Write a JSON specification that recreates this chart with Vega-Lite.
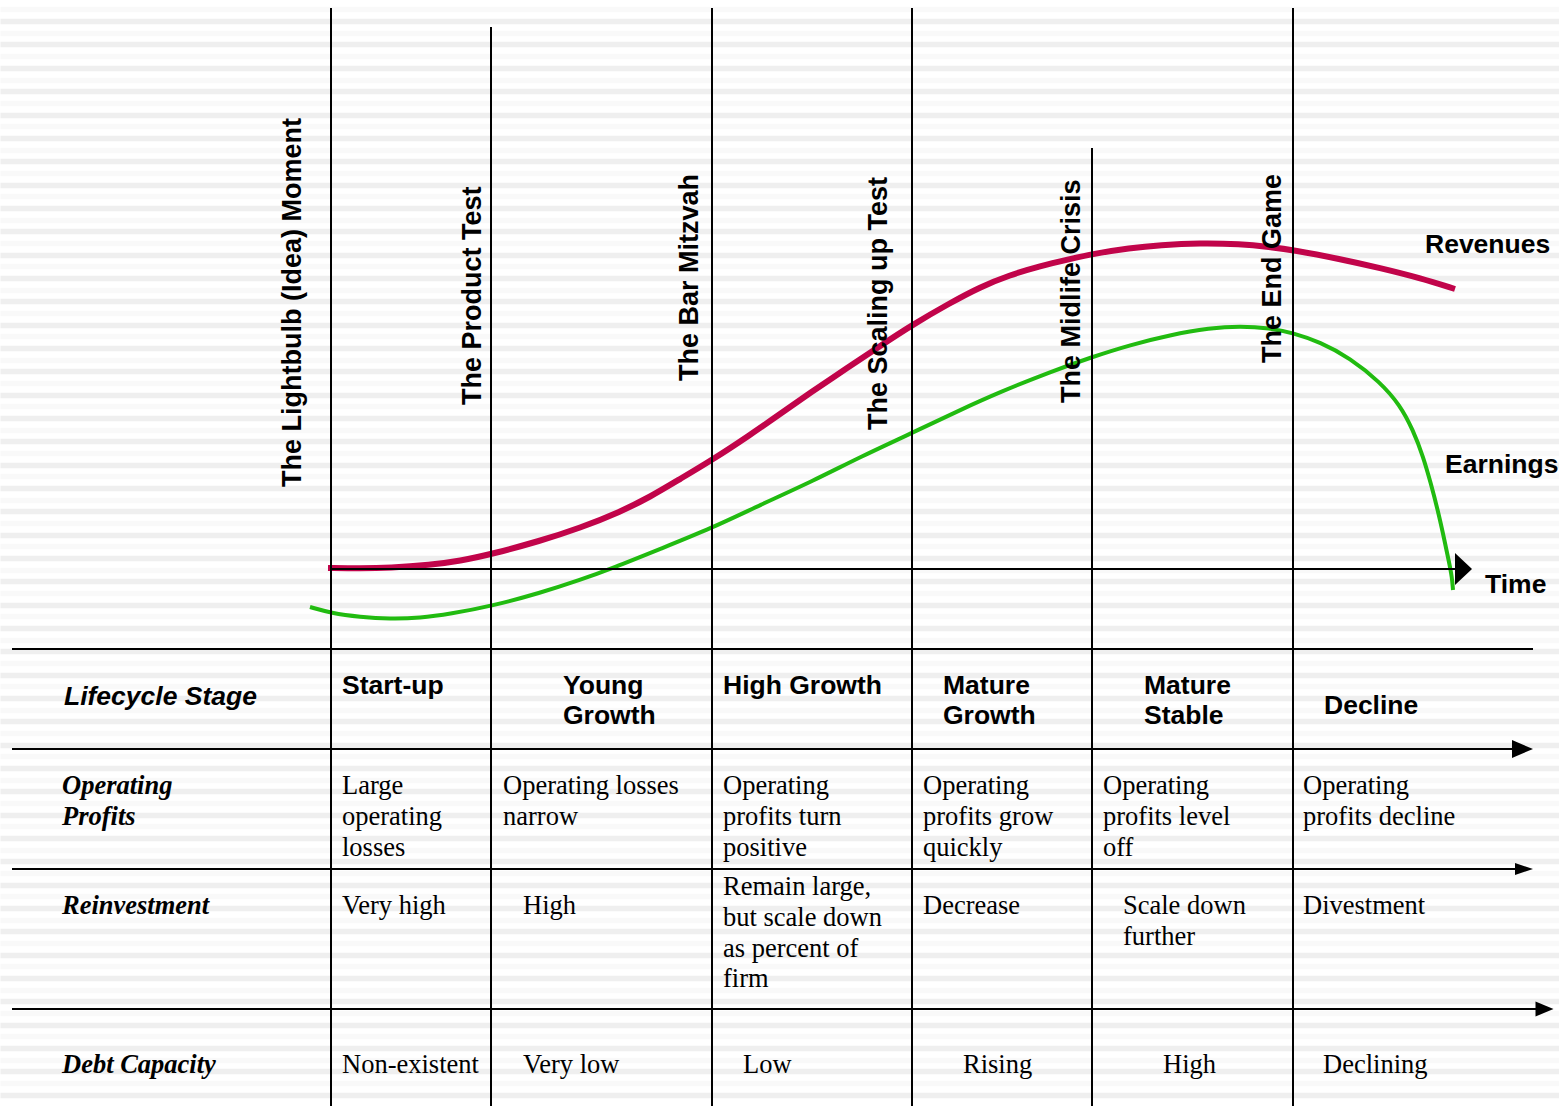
{
  "$schema": "https://vega.github.io/schema/vega-lite/v6.json",
  "width": 1559,
  "height": 1106,
  "autosize": {"type": "none"},
  "padding": 0,
  "background": "white",
  "config": {"view": {"stroke": null}},
  "datasets": {
    "curves": [
      {"series": "Revenues", "x": 328, "y": 568},
      {"series": "Revenues", "x": 360, "y": 568.5},
      {"series": "Revenues", "x": 390, "y": 568},
      {"series": "Revenues", "x": 430, "y": 565},
      {"series": "Revenues", "x": 460, "y": 561},
      {"series": "Revenues", "x": 492, "y": 554},
      {"series": "Revenues", "x": 540, "y": 541},
      {"series": "Revenues", "x": 580, "y": 528},
      {"series": "Revenues", "x": 620, "y": 512},
      {"series": "Revenues", "x": 650, "y": 497},
      {"series": "Revenues", "x": 680, "y": 479},
      {"series": "Revenues", "x": 712, "y": 460},
      {"series": "Revenues", "x": 750, "y": 435},
      {"series": "Revenues", "x": 780, "y": 414},
      {"series": "Revenues", "x": 810, "y": 393},
      {"series": "Revenues", "x": 847, "y": 368},
      {"series": "Revenues", "x": 880, "y": 346},
      {"series": "Revenues", "x": 912, "y": 325},
      {"series": "Revenues", "x": 950, "y": 303},
      {"series": "Revenues", "x": 980, "y": 287},
      {"series": "Revenues", "x": 1010, "y": 275},
      {"series": "Revenues", "x": 1040, "y": 266},
      {"series": "Revenues", "x": 1070, "y": 259},
      {"series": "Revenues", "x": 1092, "y": 254},
      {"series": "Revenues", "x": 1130, "y": 248},
      {"series": "Revenues", "x": 1160, "y": 245},
      {"series": "Revenues", "x": 1200, "y": 243},
      {"series": "Revenues", "x": 1240, "y": 244},
      {"series": "Revenues", "x": 1270, "y": 247},
      {"series": "Revenues", "x": 1293, "y": 250},
      {"series": "Revenues", "x": 1340, "y": 259},
      {"series": "Revenues", "x": 1380, "y": 268},
      {"series": "Revenues", "x": 1420, "y": 278},
      {"series": "Revenues", "x": 1455, "y": 289},
      {"series": "Earnings", "x": 310, "y": 607},
      {"series": "Earnings", "x": 331, "y": 613},
      {"series": "Earnings", "x": 360, "y": 617},
      {"series": "Earnings", "x": 390, "y": 619},
      {"series": "Earnings", "x": 420, "y": 618},
      {"series": "Earnings", "x": 450, "y": 614},
      {"series": "Earnings", "x": 492, "y": 606},
      {"series": "Earnings", "x": 540, "y": 593},
      {"series": "Earnings", "x": 580, "y": 580},
      {"series": "Earnings", "x": 613, "y": 568},
      {"series": "Earnings", "x": 660, "y": 549},
      {"series": "Earnings", "x": 712, "y": 528},
      {"series": "Earnings", "x": 760, "y": 505},
      {"series": "Earnings", "x": 813, "y": 481},
      {"series": "Earnings", "x": 860, "y": 457},
      {"series": "Earnings", "x": 912, "y": 433},
      {"series": "Earnings", "x": 960, "y": 410},
      {"series": "Earnings", "x": 1000, "y": 392},
      {"series": "Earnings", "x": 1050, "y": 372},
      {"series": "Earnings", "x": 1092, "y": 357},
      {"series": "Earnings", "x": 1130, "y": 345},
      {"series": "Earnings", "x": 1170, "y": 335},
      {"series": "Earnings", "x": 1210, "y": 328},
      {"series": "Earnings", "x": 1240, "y": 326},
      {"series": "Earnings", "x": 1270, "y": 328},
      {"series": "Earnings", "x": 1293, "y": 333},
      {"series": "Earnings", "x": 1320, "y": 342},
      {"series": "Earnings", "x": 1350, "y": 358},
      {"series": "Earnings", "x": 1380, "y": 382},
      {"series": "Earnings", "x": 1400, "y": 405},
      {"series": "Earnings", "x": 1413, "y": 430},
      {"series": "Earnings", "x": 1423, "y": 456},
      {"series": "Earnings", "x": 1431, "y": 484},
      {"series": "Earnings", "x": 1438, "y": 511},
      {"series": "Earnings", "x": 1444, "y": 538},
      {"series": "Earnings", "x": 1449, "y": 562},
      {"series": "Earnings", "x": 1452, "y": 577},
      {"series": "Earnings", "x": 1453, "y": 590}
    ],
    "vlines": [
      {"edge": "Lightbulb", "x": 331, "top": 8, "bottom": 1106},
      {"edge": "Product Test", "x": 491, "top": 27, "bottom": 1106},
      {"edge": "Bar Mitzvah", "x": 712, "top": 8, "bottom": 1106},
      {"edge": "Scaling up", "x": 912, "top": 8, "bottom": 1106},
      {"edge": "Midlife", "x": 1092, "top": 148, "bottom": 1106},
      {"edge": "End Game", "x": 1293, "top": 8, "bottom": 1106}
    ],
    "hlines": [
      {"line": "time axis", "x1": 331, "x2": 1458, "y": 569},
      {"line": "table top", "x1": 12, "x2": 1533, "y": 649},
      {"line": "stage", "x1": 12, "x2": 1515, "y": 749},
      {"line": "profits", "x1": 12, "x2": 1518, "y": 869},
      {"line": "reinvestment", "x1": 12, "x2": 1538, "y": 1009}
    ],
    "arrowheads": [
      {"kind": "time", "x": 1463.5, "y": 569},
      {"kind": "stage", "x": 1522.5, "y": 749},
      {"kind": "profits", "x": 1524, "y": 869},
      {"kind": "reinvestment", "x": 1544.5, "y": 1009}
    ],
    "labels": [
      {"kind": "milestone", "x": 293, "y": 487, "text": "The Lightbulb (Idea) Moment"},
      {"kind": "milestone", "x": 473, "y": 405, "text": "The Product Test"},
      {"kind": "milestone", "x": 690, "y": 381, "text": "The Bar Mitzvah"},
      {"kind": "milestone", "x": 879, "y": 430, "text": "The Scaling up Test"},
      {"kind": "milestone", "x": 1072, "y": 403, "text": "The Midlife Crisis"},
      {"kind": "milestone", "x": 1273, "y": 363, "text": "The End Game"},
      {"kind": "series", "x": 1425, "y": 253, "text": "Revenues"},
      {"kind": "series", "x": 1445, "y": 473, "text": "Earnings"},
      {"kind": "series", "x": 1485, "y": 593, "text": "Time"},
      {"kind": "stage", "x": 342, "y": 694, "text": "Start-up"},
      {"kind": "stage", "x": 563, "y": 694, "text": "Young"},
      {"kind": "stage", "x": 563, "y": 724, "text": "Growth"},
      {"kind": "stage", "x": 723, "y": 694, "text": "High Growth"},
      {"kind": "stage", "x": 943, "y": 694, "text": "Mature"},
      {"kind": "stage", "x": 943, "y": 724, "text": "Growth"},
      {"kind": "stage", "x": 1144, "y": 694, "text": "Mature"},
      {"kind": "stage", "x": 1144, "y": 724, "text": "Stable"},
      {"kind": "stage", "x": 1324, "y": 714, "text": "Decline"},
      {"kind": "rowsans", "x": 64, "y": 705, "text": "Lifecycle Stage"},
      {"kind": "rowserif", "x": 62, "y": 794, "text": "Operating"},
      {"kind": "rowserif", "x": 62, "y": 825, "text": "Profits"},
      {"kind": "rowserif", "x": 62, "y": 914, "text": "Reinvestment"},
      {"kind": "rowserif", "x": 62, "y": 1073, "text": "Debt Capacity"},
      {"kind": "cell", "x": 342, "y": 794, "text": "Large"},
      {"kind": "cell", "x": 342, "y": 825, "text": "operating"},
      {"kind": "cell", "x": 342, "y": 856, "text": "losses"},
      {"kind": "cell", "x": 503, "y": 794, "text": "Operating losses"},
      {"kind": "cell", "x": 503, "y": 825, "text": "narrow"},
      {"kind": "cell", "x": 723, "y": 794, "text": "Operating"},
      {"kind": "cell", "x": 723, "y": 825, "text": "profits turn"},
      {"kind": "cell", "x": 723, "y": 856, "text": "positive"},
      {"kind": "cell", "x": 923, "y": 794, "text": "Operating"},
      {"kind": "cell", "x": 923, "y": 825, "text": "profits grow"},
      {"kind": "cell", "x": 923, "y": 856, "text": "quickly"},
      {"kind": "cell", "x": 1103, "y": 794, "text": "Operating"},
      {"kind": "cell", "x": 1103, "y": 825, "text": "profits level"},
      {"kind": "cell", "x": 1103, "y": 856, "text": "off"},
      {"kind": "cell", "x": 1303, "y": 794, "text": "Operating"},
      {"kind": "cell", "x": 1303, "y": 825, "text": "profits decline"},
      {"kind": "cell", "x": 342, "y": 914, "text": "Very high"},
      {"kind": "cell", "x": 523, "y": 914, "text": "High"},
      {"kind": "cell", "x": 723, "y": 895, "text": "Remain large,"},
      {"kind": "cell", "x": 723, "y": 926, "text": "but scale down"},
      {"kind": "cell", "x": 723, "y": 957, "text": "as percent of"},
      {"kind": "cell", "x": 723, "y": 987, "text": "firm"},
      {"kind": "cell", "x": 923, "y": 914, "text": "Decrease"},
      {"kind": "cell", "x": 1123, "y": 914, "text": "Scale down"},
      {"kind": "cell", "x": 1123, "y": 945, "text": "further"},
      {"kind": "cell", "x": 1303, "y": 914, "text": "Divestment"},
      {"kind": "cell", "x": 342, "y": 1073, "text": "Non-existent"},
      {"kind": "cell", "x": 523, "y": 1073, "text": "Very low"},
      {"kind": "cell", "x": 743, "y": 1073, "text": "Low"},
      {"kind": "cell", "x": 963, "y": 1073, "text": "Rising"},
      {"kind": "cell", "x": 1163, "y": 1073, "text": "High"},
      {"kind": "cell", "x": 1323, "y": 1073, "text": "Declining"}
    ]
  },
  "layer": [
    {
      "description": "pinstripe backdrop drawn as the grid of a hidden axis",
      "data": {"values": [{"v": 0}]},
      "mark": {"type": "point", "opacity": 0},
      "encoding": {
        "y": {
          "field": "v",
          "type": "quantitative",
          "scale": {"domain": [-0.814, 93.98], "reverse": true, "nice": false, "zero": false},
          "axis": {
            "orient": "left",
            "grid": true,
            "tickCount": 95,
            "labels": false,
            "ticks": false,
            "domain": false,
            "title": null,
            "gridWidth": 5.5,
            "gridColor": {"condition": {"test": "datum.value % 2 === 1", "value": "#efefef"}, "value": "#f9f9f9"}
          }
        }
      }
    },
    {
      "layer": [
        {
          "data": {"name": "curves"},
          "transform": [{"filter": "datum.series === 'Revenues'"}],
          "mark": {"type": "line", "color": "#c1044a", "strokeWidth": 6, "interpolate": "basis", "strokeCap": "butt"},
          "encoding": {
            "x": {"field": "x", "type": "quantitative", "scale": {"domain": [0, 1559], "nice": false, "zero": false}, "axis": null},
            "y": {"field": "y", "type": "quantitative", "scale": {"domain": [0, 1106], "reverse": true, "nice": false, "zero": false}, "axis": null}
          }
        },
        {
          "data": {"name": "curves"},
          "transform": [{"filter": "datum.series === 'Earnings'"}],
          "mark": {"type": "line", "color": "#21bb10", "strokeWidth": 4, "interpolate": "basis", "strokeCap": "butt"},
          "encoding": {
            "x": {"field": "x", "type": "quantitative", "scale": {"domain": [0, 1559], "nice": false, "zero": false}, "axis": null},
            "y": {"field": "y", "type": "quantitative", "scale": {"domain": [0, 1106], "reverse": true, "nice": false, "zero": false}, "axis": null}
          }
        },
        {
          "data": {"name": "vlines"},
          "mark": {"type": "rule", "color": "black", "strokeWidth": 2},
          "encoding": {
            "x": {"field": "x", "type": "quantitative", "scale": {"domain": [0, 1559], "nice": false, "zero": false}, "axis": null},
            "y": {"field": "top", "type": "quantitative", "scale": {"domain": [0, 1106], "reverse": true, "nice": false, "zero": false}, "axis": null},
            "y2": {"field": "bottom"}
          }
        },
        {
          "data": {"name": "hlines"},
          "mark": {"type": "rule", "color": "black", "strokeWidth": 2},
          "encoding": {
            "x": {"field": "x1", "type": "quantitative", "scale": {"domain": [0, 1559], "nice": false, "zero": false}, "axis": null},
            "x2": {"field": "x2"},
            "y": {"field": "y", "type": "quantitative", "scale": {"domain": [0, 1106], "reverse": true, "nice": false, "zero": false}, "axis": null}
          }
        },
        {
          "data": {"name": "arrowheads"},
          "transform": [{"filter": "datum.kind === 'time'"}],
          "mark": {"type": "point", "filled": true, "color": "black", "opacity": 1, "strokeWidth": 0, "shape": "M-0.53,-1L0.53,0L-0.53,1Z", "size": 1024},
          "encoding": {
            "x": {"field": "x", "type": "quantitative", "scale": {"domain": [0, 1559], "nice": false, "zero": false}, "axis": null},
            "y": {"field": "y", "type": "quantitative", "scale": {"domain": [0, 1106], "reverse": true, "nice": false, "zero": false}, "axis": null}
          }
        },
        {
          "data": {"name": "arrowheads"},
          "transform": [{"filter": "datum.kind === 'stage'"}],
          "mark": {"type": "point", "filled": true, "color": "black", "opacity": 1, "strokeWidth": 0, "shape": "M-1.17,-1L1.17,0L-1.17,1Z", "size": 324},
          "encoding": {
            "x": {"field": "x", "type": "quantitative", "scale": {"domain": [0, 1559], "nice": false, "zero": false}, "axis": null},
            "y": {"field": "y", "type": "quantitative", "scale": {"domain": [0, 1106], "reverse": true, "nice": false, "zero": false}, "axis": null}
          }
        },
        {
          "data": {"name": "arrowheads"},
          "transform": [{"filter": "datum.kind === 'profits'"}],
          "mark": {"type": "point", "filled": true, "color": "black", "opacity": 1, "strokeWidth": 0, "shape": "M-1.5,-1L1.5,0L-1.5,1Z", "size": 144},
          "encoding": {
            "x": {"field": "x", "type": "quantitative", "scale": {"domain": [0, 1559], "nice": false, "zero": false}, "axis": null},
            "y": {"field": "y", "type": "quantitative", "scale": {"domain": [0, 1106], "reverse": true, "nice": false, "zero": false}, "axis": null}
          }
        },
        {
          "data": {"name": "arrowheads"},
          "transform": [{"filter": "datum.kind === 'reinvestment'"}],
          "mark": {"type": "point", "filled": true, "color": "black", "opacity": 1, "strokeWidth": 0, "shape": "M-1.2,-1L1.2,0L-1.2,1Z", "size": 225},
          "encoding": {
            "x": {"field": "x", "type": "quantitative", "scale": {"domain": [0, 1559], "nice": false, "zero": false}, "axis": null},
            "y": {"field": "y", "type": "quantitative", "scale": {"domain": [0, 1106], "reverse": true, "nice": false, "zero": false}, "axis": null}
          }
        },
        {
          "data": {"name": "labels"},
          "transform": [{"filter": "datum.kind === 'milestone'"}],
          "mark": {"type": "text", "font": "Liberation Sans", "fontWeight": "bold", "fontSize": 27, "angle": 270, "align": "left", "baseline": "middle", "color": "black"},
          "encoding": {
            "x": {"field": "x", "type": "quantitative", "scale": {"domain": [0, 1559], "nice": false, "zero": false}, "axis": null},
            "y": {"field": "y", "type": "quantitative", "scale": {"domain": [0, 1106], "reverse": true, "nice": false, "zero": false}, "axis": null},
            "text": {"field": "text"}
          }
        },
        {
          "data": {"name": "labels"},
          "transform": [{"filter": "datum.kind === 'series' || datum.kind === 'stage'"}],
          "mark": {"type": "text", "font": "Liberation Sans", "fontWeight": "bold", "fontSize": 26.5, "align": "left", "baseline": "alphabetic", "color": "black"},
          "encoding": {
            "x": {"field": "x", "type": "quantitative", "scale": {"domain": [0, 1559], "nice": false, "zero": false}, "axis": null},
            "y": {"field": "y", "type": "quantitative", "scale": {"domain": [0, 1106], "reverse": true, "nice": false, "zero": false}, "axis": null},
            "text": {"field": "text"}
          }
        },
        {
          "data": {"name": "labels"},
          "transform": [{"filter": "datum.kind === 'rowsans'"}],
          "mark": {"type": "text", "font": "Liberation Sans", "fontWeight": "bold", "fontStyle": "italic", "fontSize": 26.5, "align": "left", "baseline": "alphabetic", "color": "black"},
          "encoding": {
            "x": {"field": "x", "type": "quantitative", "scale": {"domain": [0, 1559], "nice": false, "zero": false}, "axis": null},
            "y": {"field": "y", "type": "quantitative", "scale": {"domain": [0, 1106], "reverse": true, "nice": false, "zero": false}, "axis": null},
            "text": {"field": "text"}
          }
        },
        {
          "data": {"name": "labels"},
          "transform": [{"filter": "datum.kind === 'rowserif'"}],
          "mark": {"type": "text", "font": "Liberation Serif", "fontWeight": "bold", "fontStyle": "italic", "fontSize": 26.5, "align": "left", "baseline": "alphabetic", "color": "black"},
          "encoding": {
            "x": {"field": "x", "type": "quantitative", "scale": {"domain": [0, 1559], "nice": false, "zero": false}, "axis": null},
            "y": {"field": "y", "type": "quantitative", "scale": {"domain": [0, 1106], "reverse": true, "nice": false, "zero": false}, "axis": null},
            "text": {"field": "text"}
          }
        },
        {
          "data": {"name": "labels"},
          "transform": [{"filter": "datum.kind === 'cell'"}],
          "mark": {"type": "text", "font": "Liberation Serif", "fontSize": 26.5, "align": "left", "baseline": "alphabetic", "color": "black"},
          "encoding": {
            "x": {"field": "x", "type": "quantitative", "scale": {"domain": [0, 1559], "nice": false, "zero": false}, "axis": null},
            "y": {"field": "y", "type": "quantitative", "scale": {"domain": [0, 1106], "reverse": true, "nice": false, "zero": false}, "axis": null},
            "text": {"field": "text"}
          }
        }
      ]
    }
  ],
  "resolve": {"scale": {"y": "independent"}, "axis": {"y": "independent"}}
}
